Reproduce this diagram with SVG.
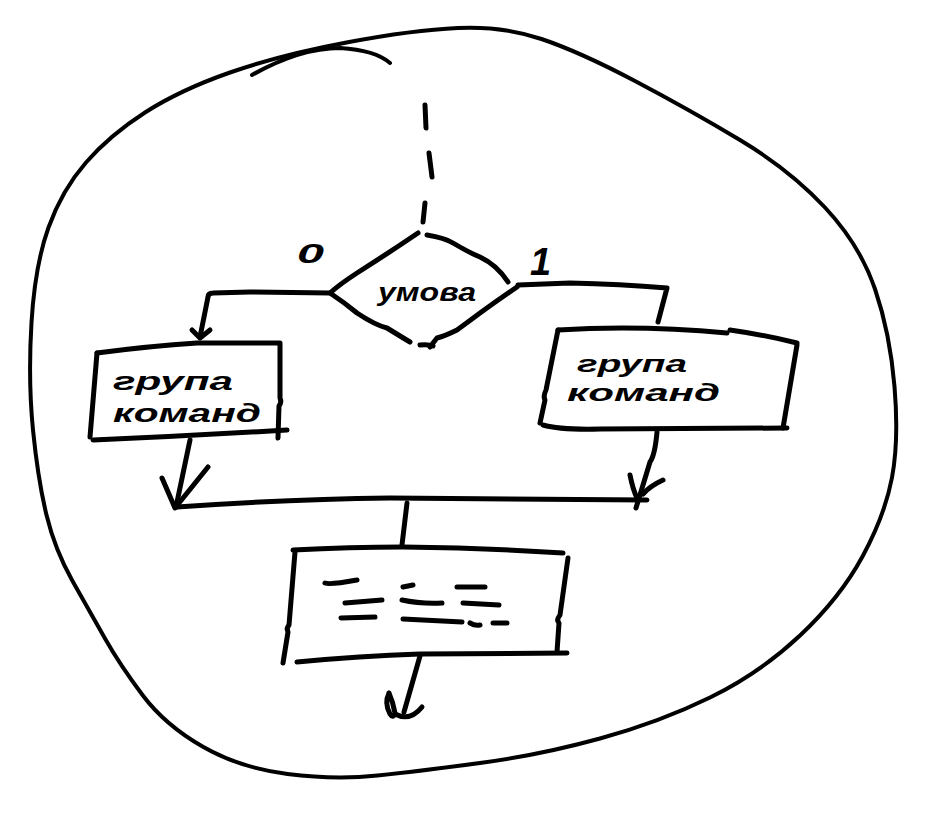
<svg xmlns="http://www.w3.org/2000/svg" width="937" height="835" viewBox="0 0 937 835">
<style>
.ink{fill:none;stroke:#000;stroke-width:5;stroke-linecap:round;stroke-linejoin:round}
.thin{stroke-width:4}
.hand{font-family:"Liberation Sans","DejaVu Sans",sans-serif;font-style:italic;font-weight:bold;fill:#000}
</style>
<rect width="937" height="835" fill="#fff"/>
<g id="boundary">
<path class="ink thin" d="M458,28 Q503,26 541.5,39 Q580,52 635,81 Q690,110 740,140 Q790,170 825,207.5 Q860,245 875,289 Q890,333 894.5,386.5 Q899,440 892,477.5 Q885,515 862.5,556.5 Q840,598 800,635.5 Q760,673 710,697.5 Q660,722 600,738.5 Q540,755 480,763 Q420,771 377.5,775.5 Q335,780 287.5,774 Q240,768 202.5,746.5 Q165,725 142.5,695 Q120,665 105,638.5 Q90,612 72.5,581 Q55,550 46.5,515 Q38,480 33,430 Q28,380 31.5,322.5 Q35,265 48.5,227.5 Q62,190 86,162.5 Q110,135 145,112.5 Q180,90 230,72.5 Q280,55 346.5,42.5 Q413,30 458,28 Z"/>
<path class="ink thin" d="M252,75 Q300,48 340,48 Q375,50 390,63"/>
</g>
<g id="node-condition">
<path class="ink" d="M418,233 Q390,252 357,273 Q340,284 330,293 Q345,303 357,313 Q375,325 387,328 Q400,336 410,342"/>
<path class="ink" d="M427,235 Q445,238 453,243 Q468,252 480,257 Q497,265 508,282"/>
<path class="ink" d="M517,287 Q498,300 480,313 Q468,322 457,330 Q445,336 437,338 Q433,343 430,347"/>
<path class="ink" d="M420,345 Q428,344 433,346"/>
<text class="hand" x="378" y="301" font-size="26" textLength="98" lengthAdjust="spacingAndGlyphs">умова</text>
</g>
<g id="node-group0">
<path class="ink" d="M97,353 Q150,346 197,343 L280,343"/>
<path class="ink" d="M97,353 L90,437"/>
<path class="ink" d="M280,345 L280,398 Q282,402 279,406 L278,438"/>
<path class="ink" d="M93,440 Q190,436 287,430"/>
<text class="hand" x="113" y="390" font-size="26" textLength="120" lengthAdjust="spacingAndGlyphs">група</text>
<text class="hand" x="113" y="422" font-size="26" textLength="148" lengthAdjust="spacingAndGlyphs">команд</text>
</g>
<g id="node-group1">
<path class="ink" d="M558,330 Q640,325 727,333 M730,330 Q765,335 797,343"/>
<path class="ink" d="M558,330 L546,390 Q543,396 545,400 L540,423"/>
<path class="ink" d="M797,345 L783,428"/>
<path class="ink" d="M543,425 Q560,430 600,429 L787,428"/>
<text class="hand" x="577" y="372" font-size="24" textLength="110" lengthAdjust="spacingAndGlyphs">група</text>
<text class="hand" x="567" y="401" font-size="24" textLength="153" lengthAdjust="spacingAndGlyphs">команд</text>
</g>
<g id="node-process">
<path class="ink" d="M293,550 Q350,547 403,547 Q490,548 563,553"/>
<path class="ink" d="M295,552 L289,625 Q286,628 288,632 L283,663"/>
<path class="ink" d="M568,558 L560,615 Q556,620 559,623 L557,652"/>
<path class="ink" d="M297,662 Q360,656 420,654 L567,653"/>
<path class="ink" d="M325,583 Q330,585 357,580 M403,587 L413,585 M457,587 L485,587 M345,603 L382,600 M402,600 Q420,604 442,603 M463,603 L499,605 M341,618 L375,617 M403,619 L462,622 M470,623 Q475,626 480,625 M493,623 L507,623"/>
</g>
<g id="connectors">
<path class="ink" d="M425,105 L426,128 M429,153 L432,177 M425,203 L423,222"/>
<path class="ink" d="M330,293 L250,292 L213,293 Q208,293 208,297 L200,337"/>
<path class="ink" d="M192,330 L200,338 L210,330"/>
<path class="ink" d="M518,285 L570,283 Q620,284 667,288 L658,322"/>
<path class="ink" d="M190,440 L176,507"/>
<path class="ink" d="M162,478 L175,508 L208,467"/>
<path class="ink" d="M657,432 Q655,455 650,462 L636,508"/>
<path class="ink" d="M630,475 Q633,490 637,498 M663,480 Q650,486 643,494"/>
<path class="ink" d="M177,507 Q290,499 390,498 L647,500"/>
<path class="ink" d="M407,503 L402,545"/>
<path class="ink" d="M420,656 L404,712"/>
<path class="ink" d="M389,693 Q384,703 390,714 Q393,719 395,713 Q393,702 389,693 M395,714 Q410,722 422,707"/>
<text class="hand" x="297" y="263" font-size="28" textLength="27" lengthAdjust="spacingAndGlyphs">0</text>
<text class="hand" x="530" y="275" font-size="38">1</text>
</g>
</svg>
